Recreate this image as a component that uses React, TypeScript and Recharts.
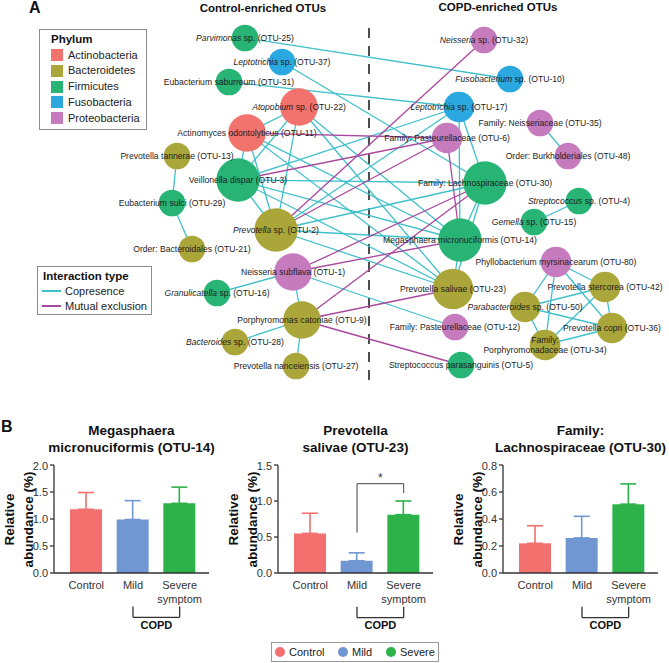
import React from 'react';
import { ScatterChart, Scatter, XAxis, YAxis, ZAxis, ReferenceLine, BarChart, Bar, ErrorBar } from 'recharts';

const FONT = '"Liberation Sans", Arial, Helvetica, sans-serif';

// ---------------- Panel A: network ----------------
const phyla = ['Actinobacteria', 'Bacteroidetes', 'Firmicutes', 'Fusobacteria', 'Proteobacteria'];
const phylumColors = ['#F2726D', '#ABA63A', '#27B475', '#2BA8E0', '#C67BBF'];

const otuIds = ['OTU-25', 'OTU-37', 'OTU-31', 'OTU-22', 'OTU-11', 'OTU-13', 'OTU-3', 'OTU-29', 'OTU-2', 'OTU-21', 'OTU-1', 'OTU-16', 'OTU-9', 'OTU-28', 'OTU-27',
  'OTU-32', 'OTU-10', 'OTU-17', 'OTU-35', 'OTU-6', 'OTU-48', 'OTU-30', 'OTU-4', 'OTU-15', 'OTU-14', 'OTU-80', 'OTU-23', 'OTU-42', 'OTU-50', 'OTU-12', 'OTU-36', 'OTU-34', 'OTU-5'];
const otuItalic = ['Parvimonas', 'Leptotrichia', '', 'Atopobium', '', '', '', '', 'Prevotella', '', '', 'Granulicatella', '', 'Bacteroides', '',
  'Neisseria', 'Fusobacterium', 'Leptotrichia', '', '', '', '', 'Streptococcus', 'Gemella', '', '', '', '', 'Parabacteroides', '', '', '', ''];
const otuRest = [' sp. (OTU-25)', ' sp. (OTU-37)', 'Eubacterium saburreum (OTU-31)', ' sp. (OTU-22)', 'Actinomyces odontolyticus (OTU-11)', 'Prevotella tannerae (OTU-13)',
  'Veillonella dispar (OTU-3)', 'Eubacterium sulci (OTU-29)', ' sp. (OTU-2)', 'Order: Bacteroidales (OTU-21)', 'Neisseria subflava (OTU-1)', ' sp. (OTU-16)',
  'Porphyromonas catoniae (OTU-9)', ' sp. (OTU-28)', 'Prevotella nanceiensis (OTU-27)',
  ' sp. (OTU-32)', ' sp. (OTU-10)', ' sp. (OTU-17)', 'Family: Neisseriaceae (OTU-35)', 'Family: Pasteurellaceae (OTU-6)', 'Order: Burkholderiales (OTU-48)',
  'Family: Lachnospiraceae (OTU-30)', ' sp. (OTU-4)', ' sp. (OTU-15)', 'Megasphaera micronuciformis (OTU-14)', 'Phyllobacterium myrsinacearum (OTU-80)',
  'Prevotella salivae (OTU-23)', 'Prevotella stercorea (OTU-42)', ' sp. (OTU-50)', 'Family: Pasteurellaceae (OTU-12)', 'Prevotella copri (OTU-36)',
  'Family:\nPorphyromonadaceae (OTU-34)', 'Streptococcus parasanguinis (OTU-5)'];
const otuPhylum = ['Firmicutes', 'Fusobacteria', 'Firmicutes', 'Actinobacteria', 'Actinobacteria', 'Bacteroidetes', 'Firmicutes', 'Firmicutes', 'Bacteroidetes', 'Bacteroidetes',
  'Proteobacteria', 'Firmicutes', 'Bacteroidetes', 'Bacteroidetes', 'Bacteroidetes',
  'Proteobacteria', 'Fusobacteria', 'Fusobacteria', 'Proteobacteria', 'Proteobacteria', 'Proteobacteria', 'Firmicutes', 'Firmicutes', 'Firmicutes', 'Firmicutes',
  'Proteobacteria', 'Bacteroidetes', 'Bacteroidetes', 'Bacteroidetes', 'Proteobacteria', 'Bacteroidetes', 'Bacteroidetes', 'Firmicutes'];
const otuWeight = [2, 2, 2, 5, 5, 2, 7, 2, 7, 2, 5, 2, 5, 2, 2,
  2, 2, 3, 2, 3, 2, 7, 2, 2, 7, 3, 6, 3, 3, 2, 3, 3, 2];
const otuLayoutX = [245, 282, 229, 299, 247, 177, 238, 172, 276, 192, 293, 217, 302, 235, 296,
  484, 510, 459, 540, 447, 568, 485, 579, 534, 460, 556, 453, 605, 525, 455, 612, 545, 461];
const otuLayoutY = [38, 62, 82, 107, 133, 156, 180, 203, 230, 249, 272, 293, 320, 342, 366,
  40, 79, 107, 123, 138, 156, 183, 201, 222, 240, 262, 289, 287, 307, 327, 328, 345, 365];

const copresenceEdges = [
  ['OTU-13', 'OTU-29'], ['OTU-29', 'OTU-21'], ['OTU-11', 'OTU-3'], ['OTU-22', 'OTU-3'], ['OTU-22', 'OTU-11'], ['OTU-22', 'OTU-2'],
  ['OTU-11', 'OTU-2'], ['OTU-3', 'OTU-2'], ['OTU-1', 'OTU-16'], ['OTU-1', 'OTU-9'], ['OTU-9', 'OTU-28'], ['OTU-9', 'OTU-27'],
  ['OTU-25', 'OTU-10'], ['OTU-37', 'OTU-30'], ['OTU-31', 'OTU-17'], ['OTU-17', 'OTU-3'], ['OTU-17', 'OTU-2'], ['OTU-3', 'OTU-30'],
  ['OTU-22', 'OTU-14'], ['OTU-22', 'OTU-23'], ['OTU-11', 'OTU-14'], ['OTU-11', 'OTU-23'], ['OTU-3', 'OTU-14'], ['OTU-3', 'OTU-23'],
  ['OTU-2', 'OTU-14'], ['OTU-2', 'OTU-23'], ['OTU-2', 'OTU-30'], ['OTU-1', 'OTU-12'], ['OTU-17', 'OTU-14'], ['OTU-17', 'OTU-30'],
  ['OTU-30', 'OTU-14'], ['OTU-30', 'OTU-23'], ['OTU-14', 'OTU-23'],
  ['OTU-35', 'OTU-48'], ['OTU-4', 'OTU-15'], ['OTU-80', 'OTU-50'], ['OTU-80', 'OTU-34'], ['OTU-80', 'OTU-42'], ['OTU-80', 'OTU-36'],
  ['OTU-42', 'OTU-50'], ['OTU-42', 'OTU-34'], ['OTU-42', 'OTU-36'], ['OTU-50', 'OTU-34'], ['OTU-50', 'OTU-36'], ['OTU-34', 'OTU-36'],
];
const exclusionEdges = [
  ['OTU-32', 'OTU-2'], ['OTU-11', 'OTU-6'], ['OTU-3', 'OTU-6'], ['OTU-2', 'OTU-6'], ['OTU-6', 'OTU-14'],
  ['OTU-1', 'OTU-30'], ['OTU-1', 'OTU-14'], ['OTU-9', 'OTU-30'], ['OTU-9', 'OTU-23'], ['OTU-9', 'OTU-5'],
];
const interactionTypes = ['Copresence', 'Mutual exclusion'];
const interactionColors = ['#3FC0CA', '#AA489E'];

const nodes = otuIds.map((id, i) => ({
  id, x: otuLayoutX[i], y: otuLayoutY[i], w: otuWeight[i], phylum: otuPhylum[i], italic: otuItalic[i], rest: otuRest[i],
}));
const nodeById: Record<string, any> = {};
nodes.forEach((n) => { nodeById[n.id] = n; });

// ---------------- Panel B: bar charts ----------------
const groups = ['Control', 'Mild', 'Severe symptom'];
const groupKeys = ['control', 'mild', 'severe'];
const legendGroups = ['Control', 'Mild', 'Severe'];
const groupColors = ['#F2706D', '#7197D2', '#2DB24A'];

const otu14Mean = [1.18, 0.99, 1.29];
const otu14Sem = [0.31, 0.35, 0.30];
const otu23Mean = [0.55, 0.17, 0.81];
const otu23Sem = [0.28, 0.11, 0.19];
const otu30Mean = [0.22, 0.26, 0.51];
const otu30Sem = [0.13, 0.16, 0.15];

const otu14Ticks = [0, 0.5, 1.0, 1.5, 2.0];
const otu23Ticks = [0, 0.5, 1.0, 1.5];
const otu30Ticks = [0, 0.2, 0.4, 0.6, 0.8];

const EmptyShape = () => <g />;

const NodeShape = (props: any) => {
  const { cx, cy, payload } = props;
  const size = typeof props.size === 'number' && isFinite(props.size) ? props.size : 600;
  const r = Math.sqrt(size / Math.PI);
  const color = phylumColors[phyla.indexOf(payload.phylum)];
  return <circle cx={cx} cy={cy} r={r} fill={color} />;
};

const LabelShape = (props: any) => {
  const { cx, cy, payload } = props;
  const lines: string[] = payload.rest.split('\n');
  const common = { textAnchor: 'middle' as const, fontSize: 8.6, fill: '#1c1c1c', fontFamily: FONT, style: { whiteSpace: 'pre' as const } };
  if (lines.length === 1) {
    return (
      <text x={cx} y={cy} dy="0.35em" {...common}>
        {payload.italic ? <tspan fontStyle="italic">{payload.italic}</tspan> : null}
        <tspan>{payload.rest}</tspan>
      </text>
    );
  }
  return (
    <text x={cx} y={cy} {...common}>
      {lines.map((ln, i) => (
        <tspan key={i} x={cx} dy={i === 0 ? -2.2 : 10}>{ln}</tspan>
      ))}
    </text>
  );
};

function Network() {
  return (
    <ScatterChart width={669} height={392} margin={{ top: 0, right: 0, bottom: 0, left: 0 }}>
      <XAxis type="number" dataKey="x" domain={[0, 669]} allowDataOverflow hide />
      <YAxis type="number" dataKey="y" domain={[0, 392]} allowDataOverflow reversed hide />
      <ZAxis type="number" dataKey="w" domain={[2, 7]} range={[556, 1479]} />
      <ReferenceLine segment={[{ x: 369, y: 28 }, { x: 369, y: 388 }]} stroke="#222" strokeWidth={1.6} strokeDasharray="10 8" ifOverflow="visible" />
      {copresenceEdges.map(([a, b], i) => (
        <Scatter key={'c' + i} data={[nodeById[a], nodeById[b]]} line={{ stroke: interactionColors[0], strokeWidth: 1.3 }} shape={EmptyShape} isAnimationActive={false} legendType="none" />
      ))}
      {exclusionEdges.map(([a, b], i) => (
        <Scatter key={'m' + i} data={[nodeById[a], nodeById[b]]} line={{ stroke: interactionColors[1], strokeWidth: 1.3 }} shape={EmptyShape} isAnimationActive={false} legendType="none" />
      ))}
      <Scatter data={nodes} shape={NodeShape} isAnimationActive={false} />
      <Scatter data={nodes} shape={LabelShape} isAnimationActive={false} />
    </ScatterChart>
  );
}

const GroupTick = (props: any) => {
  const { x, y, payload } = props;
  const words: string[] = String(payload.value).split(' ');
  return (
    <text x={x} y={y} textAnchor="middle" fontSize={11} fill="#333" fontFamily={FONT}>
      {words.map((w, i) => (
        <tspan key={i} x={x} dy={i === 0 ? '0.71em' : 14}>{w}</tspan>
      ))}
    </text>
  );
};

type ChartProps = {
  axisX: number; titleLines: string[]; means: number[]; sems: number[]; yMax: number; ticks: number[];
  copd: [number, number]; sig?: { low: number; top: number; right: number };
};

function AbundanceChart({ axisX, titleLines, means, sems, yMax, ticks, copd, sig }: ChartProps) {
  const data = groups.map((g, i) => {
    const row: any = { group: g };
    row[groupKeys[i]] = means[i];
    row[groupKeys[i] + 'Err'] = [0, sems[i]];
    return row;
  });
  const line = { stroke: '#333', strokeWidth: 1.3, ifOverflow: 'visible' as const };
  return (
    <>
      <div style={{ position: 'absolute', left: axisX + 77.5 - 110, top: 421.5, width: 220, textAlign: 'center', fontSize: 13.5, fontWeight: 'bold', lineHeight: '17px', color: '#111' }}>
        {titleLines.map((t, i) => <div key={i}>{t}</div>)}
      </div>
      {['Relative', 'abundance (%)'].map((t, i) => (
        <div key={t} style={{ position: 'absolute', left: axisX - (i === 0 ? 45 : 26) - 60, top: 519 - 8.5, width: 120, height: 17, lineHeight: '17px', textAlign: 'center', fontSize: 13.5, fontWeight: 'bold', color: '#111', transform: 'rotate(-90deg)' }}>{t}</div>
      ))}
      <div style={{ position: 'absolute', left: axisX - 54, top: 460 }}>
        <BarChart width={219} height={178} data={data} margin={{ top: 5, right: 10, bottom: 35, left: 0 }}>
          <XAxis dataKey="group" type="category" tickLine={false} axisLine={{ stroke: '#333', strokeWidth: 1.3 }} padding={{ left: 9, right: 6 }} height={30} tick={<GroupTick />} interval={0} />
          <YAxis type="number" width={54} domain={[0, yMax]} ticks={ticks} allowDataOverflow tickSize={4} tickFormatter={(v: number) => v.toFixed(1)}
            axisLine={{ stroke: '#333', strokeWidth: 1.3 }} tickLine={{ stroke: '#333', strokeWidth: 1.3 }} tick={{ fontSize: 11, fill: '#333', fontFamily: FONT }} />
          {groupKeys.map((k, i) => (
            <Bar key={k} dataKey={k} stackId="s" fill={groupColors[i]} barSize={32} isAnimationActive={false}>
              <ErrorBar dataKey={k + 'Err'} width={8} stroke={groupColors[i]} strokeWidth={1.6} direction="y" />
            </Bar>
          ))}
          <ReferenceLine segment={[{ x: 'Mild', y: copd[0] }, { x: 'Mild', y: copd[1] }]} {...line} />
          <ReferenceLine segment={[{ x: 'Mild', y: copd[1] }, { x: 'Severe symptom', y: copd[1] }]} {...line}
            label={{ value: 'COPD', position: 'bottom', offset: 4, fontSize: 11, fontWeight: 'bold', fill: '#111', fontFamily: FONT }} />
          <ReferenceLine segment={[{ x: 'Severe symptom', y: copd[0] }, { x: 'Severe symptom', y: copd[1] }]} {...line} />
          {sig ? <ReferenceLine segment={[{ x: 'Mild', y: sig.low }, { x: 'Mild', y: sig.top }]} stroke="#444" strokeWidth={1} ifOverflow="visible" /> : null}
          {sig ? <ReferenceLine segment={[{ x: 'Mild', y: sig.top }, { x: 'Severe symptom', y: sig.top }]} stroke="#444" strokeWidth={1} ifOverflow="visible"
            label={{ value: '*', position: 'top', offset: 2, fontSize: 12, fill: '#333', fontFamily: FONT }} /> : null}
          {sig ? <ReferenceLine segment={[{ x: 'Severe symptom', y: sig.right }, { x: 'Severe symptom', y: sig.top }]} stroke="#444" strokeWidth={1} ifOverflow="visible" /> : null}
        </BarChart>
      </div>
    </>
  );
}

export default function App() {
  return (
    <div style={{ position: 'absolute', left: 0, top: 0, width: 669, height: 663, background: '#fff', fontFamily: FONT, overflow: 'hidden', color: '#222' }}>
      <div style={{ position: 'absolute', left: 0, top: 0 }}>
        <Network />
      </div>
      <div style={{ position: 'absolute', left: 29, top: 0, fontSize: 16, fontWeight: 'bold', lineHeight: '16px', color: '#111' }}>A</div>
      <div style={{ position: 'absolute', left: 1, top: 419, fontSize: 16, fontWeight: 'bold', lineHeight: '16px', color: '#111' }}>B</div>
      <div style={{ position: 'absolute', left: 163, top: 1, width: 200, textAlign: 'center', fontSize: 11.5, fontWeight: 'bold', lineHeight: '14px', color: '#111' }}>Control-enriched OTUs</div>
      <div style={{ position: 'absolute', left: 398, top: 0, width: 200, textAlign: 'center', fontSize: 11.5, fontWeight: 'bold', lineHeight: '14px', color: '#111' }}>COPD-enriched OTUs</div>

      <div style={{ position: 'absolute', left: 39, top: 29, width: 108, height: 101, border: '1px solid #8c8c8c', boxSizing: 'border-box', background: '#fff' }}>
        <div style={{ position: 'absolute', left: 11, top: 2, fontSize: 11.5, fontWeight: 'bold', lineHeight: '14px', color: '#111' }}>Phylum</div>
        {phyla.map((p, i) => (
          <div key={p} style={{ position: 'absolute', left: 11, top: 18.5 + i * 15.75, height: 13, display: 'flex', alignItems: 'center' }}>
            <span style={{ width: 12, height: 12, background: phylumColors[i], display: 'inline-block' }} />
            <span style={{ marginLeft: 5, fontSize: 11, lineHeight: '13px', color: '#222' }}>{p}</span>
          </div>
        ))}
      </div>

      <div style={{ position: 'absolute', left: 37, top: 266, width: 115, height: 49, border: '1px solid #8c8c8c', boxSizing: 'border-box', background: '#fff' }}>
        <div style={{ position: 'absolute', left: 5, top: 2, fontSize: 11.5, fontWeight: 'bold', lineHeight: '14px', color: '#111' }}>Interaction type</div>
        {interactionTypes.map((t, i) => (
          <div key={t} style={{ position: 'absolute', left: 4, top: 17.5 + i * 15, height: 13, display: 'flex', alignItems: 'center' }}>
            <span style={{ width: 19, height: 2.5, background: interactionColors[i], display: 'inline-block' }} />
            <span style={{ marginLeft: 4, fontSize: 11, lineHeight: '13px', color: '#222' }}>{t}</span>
          </div>
        ))}
      </div>

      <AbundanceChart axisX={54} titleLines={['Megasphaera', 'micronuciformis (OTU-14)']} means={otu14Mean} sems={otu14Sem} yMax={2.0} ticks={otu14Ticks} copd={[-0.62, -0.82]} />
      <AbundanceChart axisX={278} titleLines={['Prevotella', 'salivae (OTU-23)']} means={otu23Mean} sems={otu23Sem} yMax={1.5} ticks={otu23Ticks} copd={[-0.47, -0.62]}
        sig={{ low: 0.56, top: 1.24, right: 1.11 }} />
      <AbundanceChart axisX={503} titleLines={['Family:', 'Lachnospiraceae (OTU-30)']} means={otu30Mean} sems={otu30Sem} yMax={0.8} ticks={otu30Ticks} copd={[-0.25, -0.33]} />

      <div style={{ position: 'absolute', left: 271, top: 642, width: 168, height: 20, border: '1px solid #999', boxSizing: 'border-box', background: '#fff' }}>
        {legendGroups.map((g, i) => (
          <div key={g} style={{ position: 'absolute', left: [3, 66, 114][i], top: 2, height: 14, display: 'flex', alignItems: 'center' }}>
            <span style={{ width: 10, height: 10, borderRadius: 5, background: groupColors[i], display: 'inline-block' }} />
            <span style={{ marginLeft: 4, fontSize: 11, lineHeight: '14px', color: '#222' }}>{g}</span>
          </div>
        ))}
      </div>
    </div>
  );
}
